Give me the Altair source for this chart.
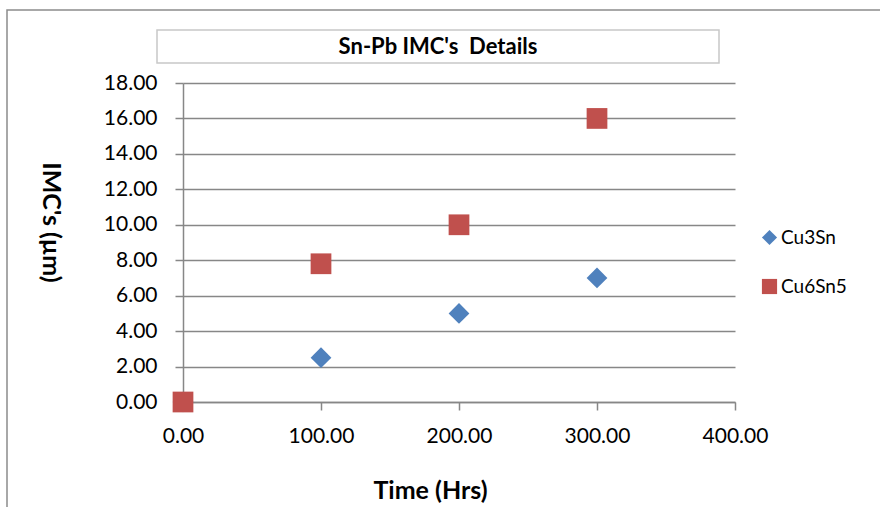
import altair as alt
import pandas as pd

series = ["Cu3Sn", "Cu3Sn", "Cu3Sn", "Cu3Sn", "Cu6Sn5", "Cu6Sn5", "Cu6Sn5", "Cu6Sn5"]
time_hrs = [0, 100, 200, 300, 0, 100, 200, 300]
imc_um = [0.0, 2.5, 5.0, 7.0, 0.0, 7.8, 10.0, 16.0]
series_names = ["Cu3Sn", "Cu6Sn5"]
series_colors = ["#4F81BD", "#C0504D"]
series_shapes = ["diamond", "square"]
chart_title = "Sn-Pb IMC's\u00a0 Details"

df = pd.DataFrame({"series": series, "time": time_hrs, "imc": imc_um})

FONT = "Lato"
GRID = "#878787"

frame = alt.Chart(pd.DataFrame({"a": [0]})).mark_rect(
    fill=None, stroke="#8c8c8c", strokeWidth=1.5, clip=False
).encode(
    x=alt.value(-176), x2=alt.value(720),
    y=alt.value(-73), y2=alt.value(440)
)

title_box = alt.Chart(pd.DataFrame({"a": [0]})).mark_rect(
    fill="white", stroke="#c8c8c8", strokeWidth=1.5, clip=False
).encode(
    x=alt.value(-26), x2=alt.value(536),
    y=alt.value(-53), y2=alt.value(-20)
)

title_text = alt.Chart(pd.DataFrame({"t": [chart_title]})).mark_text(
    font=FONT, fontSize=22, fontWeight="bold", color="black", clip=False
).encode(
    text="t:N", x=alt.value(255), y=alt.value(-36)
)

legend_cfg = dict(title=None, orient="none", legendX=577, legendY=145,
                  symbolSize=230, labelFontSize=19, labelFont=FONT,
                  labelColor="black", rowPadding=29, labelOffset=2)

points = alt.Chart(df).mark_point(filled=True, opacity=1, size=430).encode(
    x=alt.X("time:Q", scale=alt.Scale(domain=[0, 400], nice=False),
            axis=alt.Axis(values=[0, 100, 200, 300, 400], format=".2f",
                          title="Time (Hrs)", grid=False, labelFlush=False,
                          titleX=247, titleY=88, titleBaseline="middle")),
    y=alt.Y("imc:Q", scale=alt.Scale(domain=[0, 18], nice=False),
            axis=alt.Axis(values=[0, 2, 4, 6, 8, 10, 12, 14, 16, 18], format=".2f",
                          title="IMC's (µm)", grid=True, labelPadding=18,
                          titleAngle=90, titleX=-133, titleY=139,
                          titleAlign="center", titleBaseline="middle")),
    color=alt.Color("series:N", scale=alt.Scale(domain=series_names, range=series_colors),
                    legend=alt.Legend(**legend_cfg)),
    shape=alt.Shape("series:N", scale=alt.Scale(domain=series_names, range=series_shapes),
                    legend=alt.Legend(**legend_cfg)),
)

chart = alt.layer(frame, title_box, title_text, points).properties(
    width=552, height=319,
    padding={"left": 183, "top": 83, "right": 145, "bottom": 105},
    autosize=alt.AutoSizeParams(type="none"),
    background="white",
).configure_view(stroke=None).configure_axis(
    labelFont=FONT, labelFontSize=21, labelColor="black",
    titleFont=FONT, titleFontSize=25, titleFontWeight="bold", titleColor="black",
    gridColor=GRID, gridWidth=1.5, domainColor=GRID, domainWidth=1.5,
    tickColor=GRID, tickWidth=1.5, tickSize=8, labelPadding=15,
)

chart.save("out.html", embed_options={"renderer": "svg", "actions": False})
